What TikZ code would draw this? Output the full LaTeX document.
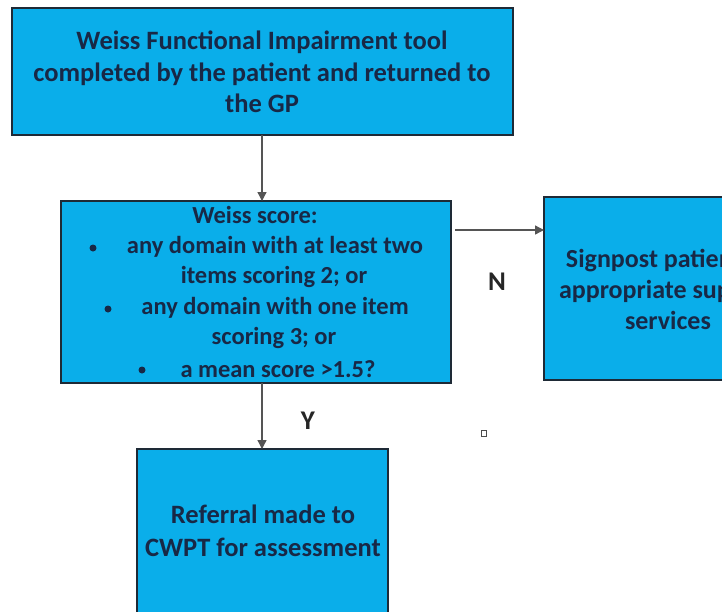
\documentclass[tikz,border=0pt]{standalone}
\usepackage{fontspec}
\setmainfont{Carlito}
\usetikzlibrary{arrows.meta}
\definecolor{boxfill}{HTML}{0AAEEA}
\definecolor{boxline}{HTML}{1E2A36}
\definecolor{txt}{HTML}{182846}
\definecolor{arr}{HTML}{555555}
\tikzset{
  flowbox/.style={draw=boxline, line width=2pt, fill=boxfill},
  boxtext/.style={text=txt, font=\bfseries\fontsize{26.5}{31.5}\selectfont, align=center, inner sep=0pt},
  midtext/.style={text=txt, font=\bfseries\fontsize{24.5}{30}\selectfont, align=center, inner sep=0pt},
  flowarrow/.style={draw=arr, line width=1.3pt, -{Triangle[length=9pt,width=9pt]}},
  lbl/.style={text=black!85, font=\bfseries\fontsize{27}{30}\selectfont, inner sep=0pt}
}
\begin{document}
\begin{tikzpicture}[x=1pt,y=-1pt]
\useasboundingbox (0,0) rectangle (722,611);
\clip (0,0) rectangle (722,611);
\fill[white] (0,0) rectangle (722,611);
% boxes
\draw[flowbox] (12,8) rectangle (513,135);
\node[boxtext] (t1) at (262,72) {Weiss Functional Impairment tool\\completed by the patient and returned to\\the GP};
\coordinate (topbot) at (262,135);

\draw[flowbox] (61,201) rectangle (451,383);
\coordinate (midtop) at (262,201);
\coordinate (midbot) at (262,383);
\coordinate (midright) at (455,230);
\node[midtext] (m0) at (255,215) {Weiss score:};
\node[midtext] (m1) at (275,247) {any domain with at least two};
\node[midtext] (m2) at (274,277) {items scoring 2; or};
\node[midtext] (m3) at (275,308) {any domain with one item};
\node[midtext] (m4) at (274,338) {scoring 3; or};
\node[midtext] (m5) at (278,369) {a mean score >1.5?};
\fill[txt] (93,248) circle (3.5pt);
\fill[txt] (108,309) circle (3.5pt);
\fill[txt] (142,370) circle (3.5pt);

\draw[flowbox] (544,197) rectangle (795,380);
\coordinate (rightleft) at (544,230);
\node[boxtext, font=\bfseries\fontsize{26}{31}\selectfont] (r1) at (668,289) {Signpost patient to\\appropriate support\\services};

\draw[flowbox] (137,449) rectangle (388,630);
\coordinate (bottop) at (262,449);
\node[boxtext, font=\bfseries\fontsize{26.5}{33}\selectfont] (b1) at (263,531) {Referral made to\\CWPT for assessment};

% connectors
\draw[flowarrow] (topbot) -- (midtop);
\draw[flowarrow] (midright) -- (rightleft);
\draw[flowarrow] (midbot) -- (bottop);
\node[lbl] (n) at (497,282) {N};
\node[lbl] (y) at (308,421) {Y};
\node[draw=black!70, line width=0.8pt, minimum width=5pt, minimum height=6pt, inner sep=0pt] (sq) at (484,433) {};
\end{tikzpicture}
\end{document}
